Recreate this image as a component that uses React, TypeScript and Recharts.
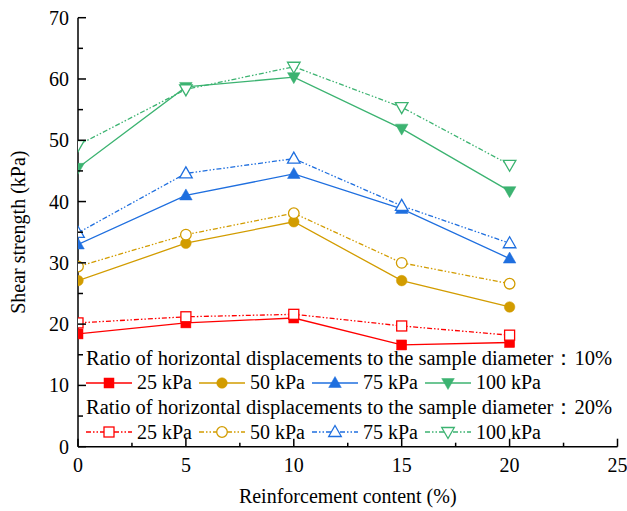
import React from "react";
import { Legend, Line, LineChart, XAxis, YAxis } from "recharts";

// reinforcement content (%)
const contents = [0, 5, 10, 15, 20];

// shear strength (kPa), ratio 10%
const s25a = [18.4, 20.2, 21.0, 16.6, 17.0];
const s50a = [27.1, 33.2, 36.7, 27.1, 22.8];
const s75a = [33.0, 41.0, 44.5, 38.8, 30.7];
const s100a = [45.5, 58.7, 60.3, 51.9, 41.7];

// shear strength (kPa), ratio 20%
const s25b = [20.2, 21.2, 21.6, 19.7, 18.2];
const s50b = [29.4, 34.6, 38.1, 30.0, 26.6];
const s75b = [34.9, 44.6, 47.0, 39.3, 33.2];
const s100b = [49.2, 58.3, 62.0, 55.4, 46.0];

const xTicks = [0, 2.5, 5, 7.5, 10, 12.5, 15, 17.5, 20, 22.5, 25];
const yTicks = [0, 5, 10, 15, 20, 25, 30, 35, 40, 45, 50, 55, 60, 65, 70];

const pressures = ["25 kPa", "50 kPa", "75 kPa", "100 kPa"];
const colors = ["#ff0000", "#d29c00", "#1f6fdf", "#3cb371"];
const shapes = ["square", "circle", "up", "down"];
const groupTitles = [
  "Ratio of horizontal displacements to the sample diameter：10%",
  "Ratio of horizontal displacements to the sample diameter：20%",
];

const FONT = "'Liberation Serif', 'Times New Roman', serif";
const DASH = "5 2 1.5 2 1.5 2";

const seriesA = [s25a, s50a, s75a, s100a];
const seriesB = [s25b, s50b, s75b, s100b];

const rows = contents.map((c, i) => {
  const row: any = { x: c };
  seriesA.forEach((s, k) => (row["a" + k] = s[i]));
  seriesB.forEach((s, k) => (row["b" + k] = s[i]));
  return row;
});

const Marker = ({ cx, cy, shape, color, filled }: any) => {
  const fill = filled ? color : "#fff";
  const sw = filled ? 0.5 : 1.3;
  if (cx == null || cy == null) return null;
  if (shape === "square")
    return <rect x={cx - 5} y={cy - 5} width={10} height={10} fill={fill} stroke={color} strokeWidth={sw} />;
  if (shape === "circle")
    return <circle cx={cx} cy={cy} r={5.3} fill={fill} stroke={color} strokeWidth={sw} />;
  if (shape === "up")
    return (
      <polygon
        points={`${cx},${cy - 6.5} ${cx + 6.3},${cy + 4.5} ${cx - 6.3},${cy + 4.5}`}
        fill={fill}
        stroke={color}
        strokeWidth={sw}
      />
    );
  return (
    <polygon
      points={`${cx},${cy + 6.5} ${cx + 6.3},${cy - 4.5} ${cx - 6.3},${cy - 4.5}`}
      fill={fill}
      stroke={color}
      strokeWidth={sw}
    />
  );
};

const XTick = (props: any) => {
  const { x, y, payload } = props;
  const major = payload.value % 5 === 0;
  return (
    <g>
      <line x1={x} x2={x} y1={y} y2={y - (major ? 8 : 4)} stroke="#000" strokeWidth={1.5} />
      {major && (
        <text x={x} y={y + 25} textAnchor="middle" fontFamily={FONT} fontSize={20} fill="#000">
          {payload.value}
        </text>
      )}
    </g>
  );
};

const YTick = (props: any) => {
  const { x, y, payload } = props;
  const major = payload.value % 10 === 0;
  return (
    <g>
      <line x1={x} x2={x + (major ? 8 : 5)} y1={y} y2={y} stroke="#000" strokeWidth={1.5} />
      {major && (
        <text x={x - 9} y={y + 7} textAnchor="end" fontFamily={FONT} fontSize={20} fill="#000">
          {payload.value}
        </text>
      )}
    </g>
  );
};

const YTitle = (props: any) => {
  const { viewBox } = props;
  const cy = viewBox.y + viewBox.height / 2;
  return (
    <text
      transform={`translate(25, ${cy}) rotate(-90)`}
      textAnchor="middle"
      fontFamily={FONT}
      fontSize={20}
      fill="#000"
    >
      Shear strength (kPa)
    </text>
  );
};

const Swatch = ({ k, dashed }: any) => (
  <svg width={46} height={16} style={{ display: "block" }}>
    <line x1={0} x2={46} y1={8} y2={8} stroke={colors[k]} strokeWidth={1.3} strokeDasharray={dashed ? DASH : undefined} />
    <Marker cx={23} cy={8} shape={shapes[k]} color={colors[k]} filled={!dashed} />
  </svg>
);

const LegendBox = () => (
  <div style={{ fontFamily: FONT, fontSize: 20, color: "#000" }}>
    {groupTitles.map((t, g) => (
      <React.Fragment key={t}>
        <div style={{ height: 24.7, lineHeight: "24.7px", whiteSpace: "nowrap", fontSize: 20.5 }}>{t}</div>
        <div style={{ height: 24.7, display: "flex", alignItems: "center", whiteSpace: "nowrap" }}>
          {pressures.map((p, k) => (
            <div key={p} style={{ display: "flex", alignItems: "center", marginRight: 7 }}>
              <Swatch k={k} dashed={g === 1} />
              <span style={{ marginLeft: 5, lineHeight: "24.7px" }}>{p}</span>
            </div>
          ))}
        </div>
      </React.Fragment>
    ))}
  </div>
);

export default function App() {
  const axisLine = { stroke: "#000", strokeWidth: 1.5 };
  return (
    <div style={{ position: "absolute", left: 0, top: 0, background: "#fff" }}>
      <LineChart width={627} height={511} data={rows} margin={{ top: 17.7, right: 9.5, bottom: 8.3, left: 18 }}>
        <XAxis
          dataKey="x"
          type="number"
          domain={[0, 25]}
          ticks={xTicks}
          interval={0}
          allowDataOverflow
          height={56}
          tickSize={0}
          tickMargin={0}
          tickLine={false}
          axisLine={axisLine}
          tick={<XTick />}
          label={{
            value: "Reinforcement content (%)",
            position: "insideBottom",
            offset: 0,
            fontFamily: FONT,
            fontSize: 20,
            fill: "#000",
          }}
        />
        <XAxis
          xAxisId="top"
          orientation="top"
          dataKey="x"
          type="number"
          domain={[0, 25]}
          height={0}
          tick={false}
          tickLine={false}
          axisLine={axisLine}
        />
        <YAxis
          type="number"
          domain={[0, 70]}
          ticks={yTicks}
          interval={0}
          allowDataOverflow
          width={60}
          tickSize={0}
          tickMargin={0}
          tickLine={false}
          axisLine={axisLine}
          tick={<YTick />}
          label={(p: any) => <YTitle {...p} />}
        />
        <YAxis
          yAxisId="right"
          orientation="right"
          type="number"
          domain={[0, 70]}
          width={0}
          tick={false}
          tickLine={false}
          axisLine={axisLine}
        />
        {[0, 1].map((g) =>
          pressures.map((p, k) => (
            <Line
              key={`${g}-${k}`}
              dataKey={(g === 0 ? "a" : "b") + k}
              name={p}
              stroke={colors[k]}
              strokeWidth={1.3}
              strokeDasharray={g === 1 ? DASH : undefined}
              isAnimationActive={false}
              activeDot={false}
              dot={(d: any) => (
                <Marker key={`${g}-${k}-${d.index}`} cx={d.cx} cy={d.cy} shape={shapes[k]} color={colors[k]} filled={g === 0} />
              )}
            />
          ))
        )}
        <Legend
          layout="horizontal"
          verticalAlign="middle"
          align="center"
          content={() => <LegendBox />}
          wrapperStyle={{ position: "absolute", left: 86, top: 345.5, width: "auto" }}
        />
      </LineChart>
    </div>
  );
}
